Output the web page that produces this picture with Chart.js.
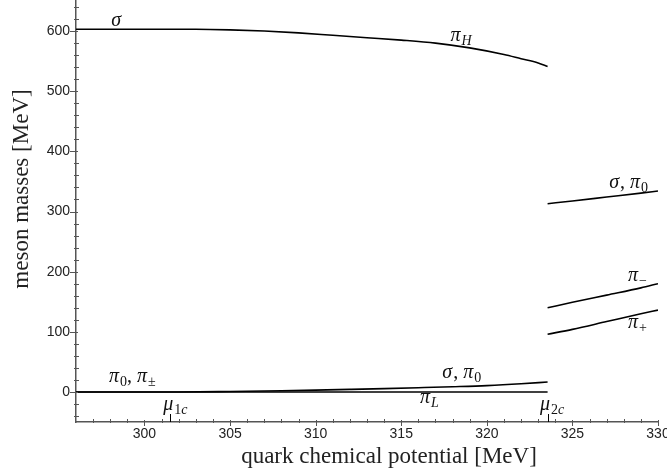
<!DOCTYPE html>
<html>
<head>
<meta charset="utf-8">
<script src="https://cdn.jsdelivr.net/npm/chart.js@4.4.0/dist/chart.umd.min.js"></script>
<style>
  html, body { margin: 0; padding: 0; background: #fff; }
  #wrap { width: 667px; height: 475px; }
</style>
</head>
<body>
<div id="wrap"><canvas id="massChart"></canvas></div>
<script>
// quark chemical potential [MeV] for each branch
const muBelow = [296, 300, 303, 305, 307, 309, 311, 313, 315, 317, 319, 321, 322, 323, 323.55];
const muLow = [296, 300, 302, 305, 308, 310, 312, 314, 316, 318, 320, 322, 323.55];
const muFlat = [296, 323.55];
const muAbove = [323.55, 325, 327, 329, 330];

// meson masses [MeV]
const sigmaPiH = [603, 603, 603, 602, 600, 597, 593, 589, 585, 580, 572, 561, 554, 547, 541];
const sigmaPi0Low = [0, 0, 0, 0.8, 2, 3, 4.2, 5.5, 7, 8.6, 10.5, 13.5, 16.5];
const piL = [0, 0];
const sigmaPi0High = [313, 317.5, 324, 330.5, 334];
const piMinus = [140, 149, 161, 173, 180];
const piPlus = [96, 104, 117, 130, 136];

// axis ticks
const xTicks = [300, 305, 310, 315, 320, 325, 330];
const yTicks = [0, 100, 200, 300, 400, 500, 600];
const xMinor = [297, 298, 299, 301, 302, 303, 304, 306, 307, 308, 309, 311, 312, 313, 314,
                316, 317, 318, 319, 321, 322, 323, 324, 326, 327, 328, 329];
const yMinor = [-40, -20, 20, 40, 60, 80, 120, 140, 160, 180, 220, 240, 260, 280,
                320, 340, 360, 380, 420, 440, 460, 480, 520, 540, 560, 580, 620, 640];

// critical chemical potentials
const muCrit = [301.52, 323.55];

// curve labels: [text, kind] pieces, kind i = italic, u = upright, si/su = subscript
const curveLabels = [
  { x: 298.06, y: 608, parts: [['σ', 'i']] },
  { x: 317.88, y: 583, parts: [['π', 'i'], ['H', 'si']] },
  { x: 327.15, y: 339, parts: [['σ', 'i'], [', ', 'u'], ['π', 'i'], ['0', 'su']] },
  { x: 328.25, y: 184, parts: [['π', 'i'], ['−', 'su']] },
  { x: 328.25, y: 106, parts: [['π', 'i'], ['+', 'su']] },
  { x: 297.93, y: 16.6, parts: [['π', 'i'], ['0', 'su'], [', ', 'u'], ['π', 'i'], ['±', 'su']] },
  { x: 317.4, y: 23, parts: [['σ', 'i'], [', ', 'u'], ['π', 'i'], ['0', 'su']] },
  { x: 316.1, y: -18, parts: [['π', 'i'], ['L', 'si']] },
  { x: 301.1, y: -30, parts: [['μ', 'i'], ['1', 'su'], ['c', 'si']] },
  { x: 323.1, y: -30, parts: [['μ', 'i'], ['2', 'su'], ['c', 'si']] }
];

const serif = "'Liberation Serif', 'DejaVu Serif', serif";

function pts(xs, ys) {
  return xs.map((x, i) => ({ x: x, y: ys[i] }));
}

function curve(xs, ys) {
  return {
    data: pts(xs, ys),
    borderColor: '#000',
    borderWidth: 1.6,
    pointRadius: 0,
    fill: false,
    cubicInterpolationMode: 'monotone'
  };
}

function drawMath(ctx, parts, x, y) {
  let cx = x;
  parts.forEach(p => {
    const [t, kind] = p;
    let font, dy = 0;
    if (kind === 'i') font = 'italic 20px ' + serif;
    else if (kind === 'u') font = '20px ' + serif;
    else if (kind === 'si') { font = 'italic 14px ' + serif; dy = 4; }
    else { font = '14px ' + serif; dy = 4; }
    ctx.font = font;
    ctx.fillText(t, cx, y + dy);
    cx += ctx.measureText(t).width + (kind === 'i' ? 1 : 0);
  });
}

const decorations = {
  id: 'decorations',
  afterDraw(chart) {
    const ctx = chart.ctx;
    const xs = chart.scales.x, ys = chart.scales.y;
    const area = chart.chartArea;
    ctx.save();
    ctx.strokeStyle = '#555';
    ctx.lineWidth = 1;
    ctx.beginPath();
    // x ticks
    xTicks.forEach(v => {
      const px = Math.round(xs.getPixelForValue(v)) + 0.5;
      ctx.moveTo(px, area.bottom - 2); ctx.lineTo(px, area.bottom + 4);
    });
    xMinor.forEach(v => {
      const px = Math.round(xs.getPixelForValue(v)) + 0.5;
      ctx.moveTo(px, area.bottom - 3); ctx.lineTo(px, area.bottom + 1);
    });
    // y ticks
    yTicks.forEach(v => {
      const py = Math.round(ys.getPixelForValue(v)) + 0.5;
      ctx.moveTo(area.left - 6, py); ctx.lineTo(area.left + 2, py);
    });
    yMinor.forEach(v => {
      const py = Math.round(ys.getPixelForValue(v)) + 0.5;
      ctx.moveTo(area.left - 2, py); ctx.lineTo(area.left + 3, py);
    });
    ctx.stroke();

    // markers for the critical potentials
    ctx.strokeStyle = '#000';
    ctx.beginPath();
    muCrit.forEach(v => {
      const px = Math.round(xs.getPixelForValue(v)) + 0.5;
      ctx.moveTo(px, area.bottom); ctx.lineTo(px, area.bottom - 8);
    });
    ctx.stroke();

    // curve labels
    ctx.fillStyle = '#111';
    ctx.textBaseline = 'alphabetic';
    ctx.textAlign = 'left';
    curveLabels.forEach(l => {
      drawMath(ctx, l.parts, xs.getPixelForValue(l.x), ys.getPixelForValue(l.y));
    });

    // axis titles
    ctx.font = '23px ' + serif;
    ctx.textAlign = 'center';
    ctx.fillStyle = '#222';
    ctx.fillText('quark chemical potential [MeV]', 389, 463);
    ctx.save();
    ctx.translate(28, 189);
    ctx.rotate(-Math.PI / 2);
    ctx.fillText('meson masses [MeV]', 0, 0);
    ctx.restore();
    ctx.restore();
  }
};

const tickFont = { family: "'Liberation Sans', Arial, sans-serif", size: 14 };

new Chart(document.getElementById('massChart'), {
  type: 'line',
  data: {
    datasets: [
      curve(muBelow, sigmaPiH),
      curve(muLow, sigmaPi0Low),
      curve(muFlat, piL),
      curve(muAbove, sigmaPi0High),
      curve(muAbove, piMinus),
      curve(muAbove, piPlus)
    ]
  },
  options: {
    responsive: true,
    maintainAspectRatio: false,
    animation: false,
    devicePixelRatio: 1,
    layout: { padding: { top: 1, right: 9, left: 0, bottom: 0 } },
    plugins: {
      legend: { display: false },
      tooltip: { enabled: false }
    },
    scales: {
      x: {
        type: 'linear',
        min: 296,
        max: 330,
        afterBuildTicks: s => { s.ticks = xTicks.map(v => ({ value: v })); },
        afterFit: s => { s.height = 53; s.paddingLeft = 0; s.paddingRight = 0; },
        ticks: { font: tickFont, color: '#222', padding: 4, maxRotation: 0, autoSkip: false },
        grid: { display: true, drawOnChartArea: false, drawTicks: false },
        border: { color: '#555', width: 1.5 }
      },
      y: {
        min: -50,
        max: 650,
        afterBuildTicks: s => { s.ticks = yTicks.map(v => ({ value: v })); },
        afterFit: s => { s.width = 76; s.paddingTop = 0; s.paddingBottom = 0; },
        ticks: { font: tickFont, color: '#222', padding: 6 },
        grid: { display: true, drawOnChartArea: false, drawTicks: false },
        border: { color: '#555', width: 1.5 }
      }
    }
  },
  plugins: [decorations]
});
</script>
</body>
</html>
